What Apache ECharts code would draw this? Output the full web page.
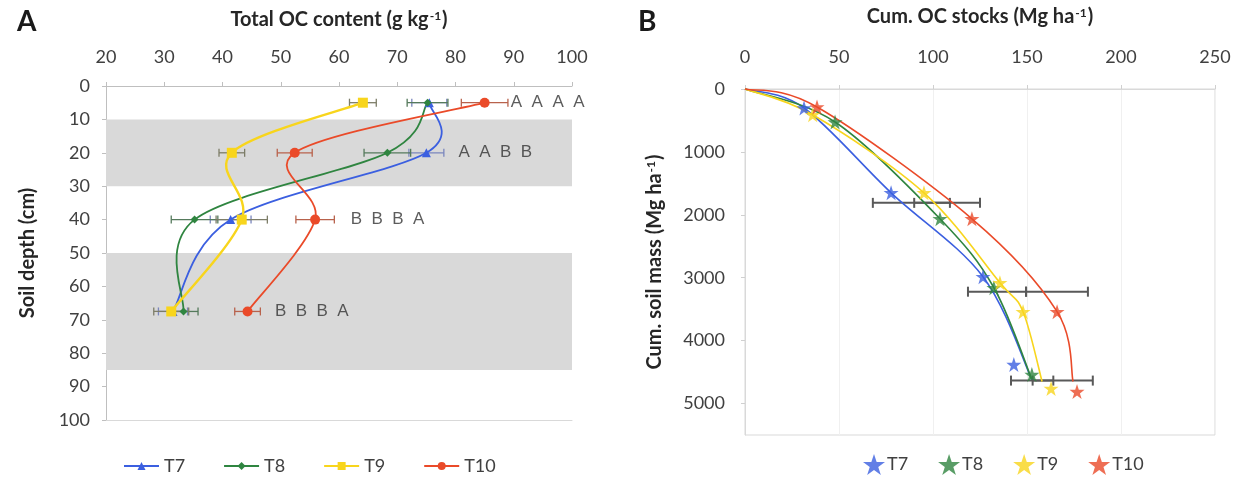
<!DOCTYPE html>
<html>
<head>
<meta charset="utf-8">
<script src="https://cdn.jsdelivr.net/npm/echarts@6/dist/echarts.min.js"></script>
<style>
  html, body { margin: 0; padding: 0; background: #ffffff; }
  #chart { width: 1239px; height: 477px; }
</style>
</head>
<body>
<div id="chart"></div>
<script>
// ---- Panel A: total OC content (g kg-1) by soil depth ----
const treatments = ['T7', 'T8', 'T9', 'T10'];
const depthA = [5, 20, 40, 67.5];
const ocT7  = [75.5, 75.0, 41.4, 31.5];
const ocT8  = [75.2, 68.3, 35.2, 33.3];
const ocT9  = [64.1, 41.6, 43.3, 31.2];
const ocT10 = [85.0, 52.4, 55.9, 44.3];
const seT7  = [3.0, 3.0, 3.5, 2.5];
const seT8  = [3.5, 4.0, 4.0, 2.5];
const seT9  = [2.3, 2.2, 4.4, 3.0];
const seT10 = [4.0, 3.0, 3.3, 2.2];
// significance letters per depth (T7 T8 T9 T10) and where they start on the OC axis
const letters  = ['A A A A', 'A A B B', 'B B B A', 'B B B A'];
const letterAt = [89.5, 80.5, 62, 49];
// sampled soil layers shaded in grey (depth ranges, cm)
const layersA = [[10, 30], [50, 85]];

// ---- Panel B: cumulative OC stocks vs cumulative soil mass ----
const starT7  = [[31.4, 302], [77.7, 1650], [126.6, 2984], [143.0, 4381]];
const starT8  = [[47.9, 524], [103.7, 2063], [132.4, 3159], [152.6, 4540]];
const starT9  = [[36.0, 410], [95.2, 1650], [135.6, 3079], [147.9, 3540], [162.8, 4762]];
const starT10 = [[38.3, 286], [120.7, 2063], [166.0, 3540], [176.6, 4810]];
const curveT7  = [[0, 0], [31.4, 302], [77.7, 1650], [126.6, 2984], [152.6, 4620]];
const curveT8  = [[0, 0], [47.9, 524], [103.7, 2063], [132.4, 3159], [152.6, 4620]];
const curveT9  = [[0, 0], [36.0, 410], [95.2, 1650], [135.6, 3079], [147.9, 3540], [158.0, 4650]];
const curveT10 = [[0, 0], [38.3, 286], [120.7, 2063], [166.0, 3540], [174.5, 4650]];
// horizontal error bars: [soil mass, low OC stock, high OC stock]
const errB = [
  [1810, 68.0, 109.0], [1810, 90.0, 125.0],
  [3222, 118.6, 149.5], [3222, 149.5, 182.4],
  [4635, 141.5, 164.0], [4635, 153.0, 185.0]
];

const colors = { T7: '#3b5fe0', T8: '#2f8540', T9: '#f8d51c', T10: '#ea4a29' };
const errColors = { T7: '#7a86bd', T8: '#557a5c', T9: '#7d7d68', T10: '#b8624c' };
const symbolsA = { T7: 'triangle', T8: 'diamond', T9: 'rect', T10: 'circle' };
const symbolSizeA = { T7: 9, T8: 8, T9: 10, T10: 10 };
const widthA = { T7: 1.8, T8: 1.8, T9: 2.4, T10: 1.8 };
const starPath = 'path://M50,0 L61.8,35.6 L99,35.6 L69,57.6 L80.4,93 L50,71.2 L19.6,93 L31,57.6 L1,35.6 L38.2,35.6 Z';

const ocA = { T7: ocT7, T8: ocT8, T9: ocT9, T10: ocT10 };
const seA = { T7: seT7, T8: seT8, T9: seT9, T10: seT10 };
const starsB = { T7: starT7, T8: starT8, T9: starT9, T10: starT10 };
const curvesB = { T7: curveT7, T8: curveT8, T9: curveT9, T10: curveT10 };

const FONT = 'Lato, "Open Sans", sans-serif';
const tickText = { color: '#404040', fontSize: 18, fontFamily: FONT };

// horizontal error bar with end caps, drawn through the axis scales
function hErrorBar(color, width, cap) {
  return function (params, api) {
    const lo = api.coord([api.value(0), api.value(1)]);
    const hi = api.coord([api.value(2), api.value(1)]);
    const st = { stroke: color, lineWidth: width };
    return {
      type: 'group',
      children: [
        { type: 'line', shape: { x1: lo[0], y1: lo[1], x2: hi[0], y2: hi[1] }, style: st },
        { type: 'line', shape: { x1: lo[0], y1: lo[1] - cap, x2: lo[0], y2: lo[1] + cap }, style: st },
        { type: 'line', shape: { x1: hi[0], y1: hi[1] - cap, x2: hi[0], y2: hi[1] + cap }, style: st }
      ]
    };
  };
}

// smoothed connector (Catmull-Rom style cubic segments) between consecutive points
function splineSegment(pts, color, width) {
  return function (params, api) {
    const i = params.dataIndex;
    if (i >= pts.length - 1) return null;
    const at = k => api.coord(pts[Math.max(0, Math.min(pts.length - 1, k))]);
    const p0 = at(i - 1), p1 = at(i), p2 = at(i + 1), p3 = at(i + 2);
    return {
      type: 'bezierCurve',
      shape: {
        x1: p1[0], y1: p1[1], x2: p2[0], y2: p2[1],
        cpx1: p1[0] + (p2[0] - p0[0]) / 6, cpy1: p1[1] + (p2[1] - p0[1]) / 6,
        cpx2: p2[0] - (p3[0] - p1[0]) / 6, cpy2: p2[1] - (p3[1] - p1[1]) / 6
      },
      style: { stroke: color, lineWidth: width, fill: 'none' }
    };
  };
}

const series = [];

// grey layer bands behind panel A
series.push({
  type: 'line', name: 'layers', xAxisIndex: 0, yAxisIndex: 0, data: [], silent: true,
  markArea: {
    silent: true,
    itemStyle: { color: '#d9d9d9' },
    data: layersA.map(l => [{ yAxis: l[0] }, { yAxis: l[1] }])
  }
});

treatments.forEach(t => {
  const pts = ocA[t].map((v, i) => [v, depthA[i]]);
  // error bars (mean ± SE)
  series.push({
    type: 'custom', name: t + ' SE', xAxisIndex: 0, yAxisIndex: 0, z: 3, silent: true,
    renderItem: hErrorBar(errColors[t], 1.3, 4),
    encode: { x: [0, 2], y: 1 },
    data: ocA[t].map((v, i) => [v - seA[t][i], depthA[i], v + seA[t][i]])
  });
  // smoothed profile line
  series.push({
    type: 'custom', name: t + ' profile', xAxisIndex: 0, yAxisIndex: 0, z: 3, silent: true,
    renderItem: splineSegment(pts, colors[t], widthA[t]),
    encode: { x: 0, y: 1 },
    data: pts
  });
});

treatments.forEach(t => {
  series.push({
    type: 'line', name: t, xAxisIndex: 0, yAxisIndex: 0, z: 4,
    symbol: symbolsA[t], symbolSize: symbolSizeA[t], showAllSymbol: true,
    lineStyle: { color: colors[t], width: widthA[t], opacity: 0 },
    itemStyle: { color: colors[t] },
    data: ocA[t].map((v, i) => [v, depthA[i]])
  });
});

// significance letters
series.push({
  type: 'scatter', name: 'letters', xAxisIndex: 0, yAxisIndex: 0, symbolSize: 0, silent: true, z: 5,
  label: {
    show: true, position: 'right', distance: 0,
    formatter: p => p.name.split(' ').join('  '),
    color: '#333333', fontSize: 17, fontFamily: '"Liberation Sans", Arial, sans-serif'
  },
  data: letters.map((s, i) => ({ name: s, value: [letterAt[i], depthA[i]] }))
});

// panel B error bars
series.push({
  type: 'custom', name: 'stock SE', xAxisIndex: 2, yAxisIndex: 1, z: 3, silent: true,
  renderItem: hErrorBar('#595959', 2, 5),
  encode: { x: [0, 2], y: 1 },
  data: errB.map(e => [e[1], e[0], e[2]])
});

treatments.forEach(t => {
  series.push({
    type: 'custom', name: t + ' curve', xAxisIndex: 2, yAxisIndex: 1, z: 4, silent: true,
    renderItem: splineSegment(curvesB[t], colors[t], 1.6),
    encode: { x: 0, y: 1 },
    data: curvesB[t]
  });
});
treatments.forEach(t => {
  series.push({
    type: 'scatter', name: 'B ' + t, xAxisIndex: 2, yAxisIndex: 1, z: 5,
    symbol: starPath, symbolSize: 15,
    itemStyle: { color: colors[t] },
    data: starsB[t]
  });
});

const titleRich = {
  t: { fontSize: 20, fontWeight: 'bold', color: '#262626', fontFamily: FONT },
  s: { fontSize: 12, fontWeight: 'bold', color: '#262626', fontFamily: FONT, verticalAlign: 'top', padding: [0, 1, 8, 1] }
};

const option = {
  backgroundColor: '#ffffff',
  animation: false,
  textStyle: { fontFamily: FONT },
  grid: [
    { left: 106, top: 86, width: 466, height: 334 },
    { left: 745, top: 89, width: 470, height: 346, show: true, borderColor: '#d9d9d9', borderWidth: 1 }
  ],
  xAxis: [
    {
      gridIndex: 0, type: 'value', position: 'top', min: 20, max: 100, interval: 10,
      name: '{t|Total OC content (g kg}{s|-1}{t|)}', nameLocation: 'middle', nameGap: 56,
      nameTextStyle: { rich: titleRich },
      axisLine: { show: true, lineStyle: { color: '#bfbfbf' } },
      axisTick: { show: true, length: 4, lineStyle: { color: '#bfbfbf' } },
      axisLabel: Object.assign({ margin: 20 }, tickText),
      splitLine: { show: false }
    },
    {
      gridIndex: 0, type: 'value', position: 'bottom', min: 20, max: 100,
      axisLine: { show: true, onZero: false, lineStyle: { color: '#d9d9d9' } },
      axisTick: { show: false }, axisLabel: { show: false }, splitLine: { show: false }
    },
    {
      gridIndex: 1, type: 'value', position: 'top', min: 0, max: 250, interval: 50,
      name: '{t|Cum. OC stocks (Mg ha}{s|-1}{t|)}', nameLocation: 'middle', nameGap: 62,
      nameTextStyle: { rich: titleRich },
      axisLine: { show: true, lineStyle: { color: '#d9d9d9' } },
      axisTick: { show: true, length: 4, lineStyle: { color: '#d0d0d0' } },
      axisLabel: Object.assign({ margin: 23 }, tickText),
      splitLine: { show: true, lineStyle: { color: '#f0f0f0' } }
    }
  ],
  yAxis: [
    {
      gridIndex: 0, type: 'value', inverse: true, min: 0, max: 100, interval: 10,
      name: 'Soil depth (cm)', nameLocation: 'middle', nameGap: 68, nameRotate: 90,
      nameTextStyle: { fontSize: 20, fontWeight: 'bold', color: '#262626', fontFamily: FONT },
      axisLine: { show: true, lineStyle: { color: '#bfbfbf' } },
      axisTick: { show: true, length: 4, lineStyle: { color: '#bfbfbf' } },
      axisLabel: Object.assign({ margin: 16 }, tickText),
      splitLine: { show: false }
    },
    {
      gridIndex: 1, type: 'value', inverse: true, min: 0, max: 5500, interval: 1000,
      name: '{t|Cum. soil mass (Mg ha}{s|-1}{t|)}', nameLocation: 'middle', nameGap: 80, nameRotate: 90,
      nameTextStyle: { rich: titleRich },
      axisLine: { show: true, lineStyle: { color: '#d9d9d9' } },
      axisTick: { show: true, length: 4, lineStyle: { color: '#d0d0d0' } },
      axisLabel: Object.assign({ margin: 20, showMaxLabel: false, formatter: v => String(v) }, tickText),
      splitLine: { show: false }
    }
  ],
  legend: [
    {
      left: 118, top: 452, orient: 'horizontal', itemWidth: 35, itemHeight: 10, itemGap: 38,
      textStyle: { color: '#404040', fontSize: 18, fontFamily: FONT },
      lineStyle: { opacity: 1 },
      data: treatments.map(t => ({ name: t }))
    },
    {
      left: 858, top: 449, orient: 'horizontal', itemWidth: 22, itemHeight: 22, itemGap: 30,
      textStyle: { color: '#404040', fontSize: 18, fontFamily: FONT, padding: [0, 0, 0, -3] },
      formatter: n => n.replace('B ', ''),
      data: treatments.map(t => ({ name: 'B ' + t, icon: starPath }))
    }
  ],
  graphic: [
    { type: 'text', left: 17, top: 8, style: { text: 'A', fontSize: 28, fontWeight: 'bold', fill: '#1a1a1a', fontFamily: FONT } },
    { type: 'text', left: 638, top: 8, style: { text: 'B', fontSize: 28, fontWeight: 'bold', fill: '#1a1a1a', fontFamily: FONT } }
  ],
  series: series
};

const chart = echarts.init(document.getElementById('chart'), null, { renderer: 'canvas' });
chart.setOption(option);
</script>
</body>
</html>
